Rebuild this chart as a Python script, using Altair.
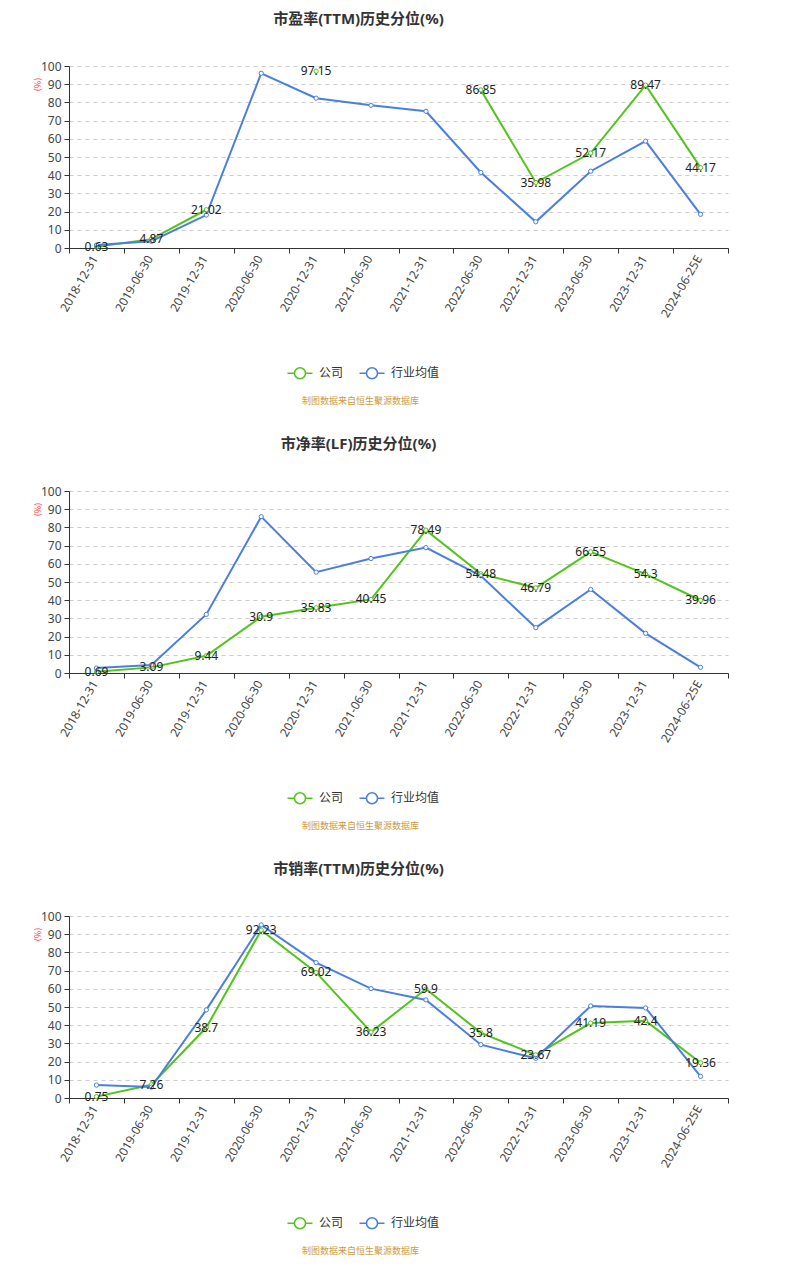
import altair as alt
import pandas as pd

dates = ["2018-12-31", "2019-06-30", "2019-12-31", "2020-06-30", "2020-12-31", "2021-06-30",
         "2021-12-31", "2022-06-30", "2022-12-31", "2023-06-30", "2023-12-31", "2024-06-25E"]
series_names = ["公司", "行业均值"]

pe_company = [0.63, 4.87, 21.02, None, 97.15, None, None, 86.85, 35.98, 52.17, 89.47, 44.17]
pe_industry = [1.6, 3.7, 18.1, 96.0, 82.3, 78.4, 75.1, 41.5, 14.4, 42.2, 58.7, 18.5]

pb_company = [0.69, 3.09, 9.44, 30.9, 35.83, 40.45, 78.49, 54.48, 46.79, 66.55, 54.3, 39.96]
pb_industry = [2.7, 4.4, 32.2, 85.9, 55.4, 62.9, 68.9, 53.4, 24.9, 45.9, 21.8, 3.1]

ps_company = [0.75, 7.26, 38.7, 92.23, 69.02, 36.23, 59.9, 35.8, 23.67, 41.19, 42.4, 19.36]
ps_industry = [7.1, 6.0, 48.4, 95.1, 74.4, 60.1, 53.9, 29.3, 21.8, 50.6, 49.5, 11.9]

titles = ["市盈率(TTM)历史分位(%)", "市净率(LF)历史分位(%)", "市销率(TTM)历史分位(%)"]
source_note = "制图数据来自恒生聚源数据库"
y_ticks = list(range(0, 101, 10))

GREEN = "#52c41a"
BLUE = "#4a7fe0"
FONT = "'Noto Sans', 'Noto Sans CJK SC', sans-serif"
LEGEND_PATH = ("M-1.25,0L-0.55,0M0.55,0L1.25,0"
               "M-0.55,0A0.55,0.55,0,1,1,0.55,0A0.55,0.55,0,1,1,-0.55,0Z")


def make_panel(title, company, industry):
    rows = []
    for d, c, i in zip(dates, company, industry):
        rows.append({"date": d, "series": series_names[0], "value": c})
        rows.append({"date": d, "series": series_names[1], "value": i})
    df = pd.DataFrame(rows)

    x = alt.X(
        "date:N", sort=dates,
        scale=alt.Scale(type="band", paddingInner=0, paddingOuter=0),
        axis=alt.Axis(
            title=source_note, titleFontSize=9, titleColor="#cc9a44", titleFontWeight="normal",
            titleX=291, titleY=152, titleAlign="center", titleBaseline="middle",
            labelAngle=300, labelAlign="right", labelBaseline="middle", labelFontSize=12,
            labelColor="#444444", labelPadding=3, labelOverlap=False, labelOffset=-2,
            tickBand="extent", tickSize=5, tickColor="#333333", domainColor="#333333",
            grid=False,
        ),
    )
    y = alt.Y(
        "value:Q",
        scale=alt.Scale(domain=[0, 100], nice=False),
        axis=alt.Axis(
            values=y_ticks, title="(%)", titleColor="#ff4d4f", titleFontSize=9,
            titleFontWeight="normal", titleAngle=270, titleX=-32, titleY=18,
            titleAlign="center", titleBaseline="middle",
            labelFontSize=12, labelColor="#444444", labelPadding=3,
            tickSize=5, tickColor="#333333", domainColor="#333333",
            grid=True, gridDash=[4, 4], gridColor="#cccccc",
        ),
    )
    color_scale = alt.Scale(domain=series_names, range=[GREEN, BLUE])

    base = alt.Chart(df)
    lines = base.mark_line(strokeWidth=2, invalid="break-paths-filter-domains").encode(
        x=x, y=y,
        color=alt.Color(
            "series:N", scale=color_scale,
            legend=alt.Legend(
                title=None, orient="none", legendX=220, legendY=296, direction="horizontal",
                symbolType=LEGEND_PATH, symbolSize=400, symbolStrokeWidth=1.5,
                labelFontSize=12, labelColor="#333333", columnPadding=12, labelOffset=8,
            ),
        ),
    )
    points = base.transform_filter("isValid(datum.value)").mark_point(
        shape="circle", filled=True, fill="white", size=18, strokeWidth=1, opacity=1
    ).encode(
        x=x, y=y,
        stroke=alt.Stroke("series:N", scale=color_scale, legend=None),
    )
    labels = base.transform_filter(
        "isValid(datum.value) && datum.series == '公司'"
    ).mark_text(fontSize=12, color="#222222", baseline="middle", align="center").encode(
        x=x, y=y, text=alt.Text("value:Q"),
    )
    return alt.layer(lines, points, labels).properties(
        width=659, height=182,
        title=alt.TitleParams(text=title, fontSize=15, fontWeight="bold", color="#333333",
                              anchor="middle", dx=-40, offset=33),
    )


chart = alt.vconcat(
    make_panel(titles[0], pe_company, pe_industry),
    make_panel(titles[1], pb_company, pb_industry),
    make_panel(titles[2], ps_company, ps_industry),
    spacing=32,
).resolve_scale(
    color="independent", stroke="independent"
).resolve_legend(
    color="independent"
).properties(
    padding={"left": 25, "top": 4, "right": 5, "bottom": 5},
    background="white",
).configure(font=FONT).configure_view(stroke=None)

chart.save("out.html", embed_options={"renderer": "svg", "actions": False})
